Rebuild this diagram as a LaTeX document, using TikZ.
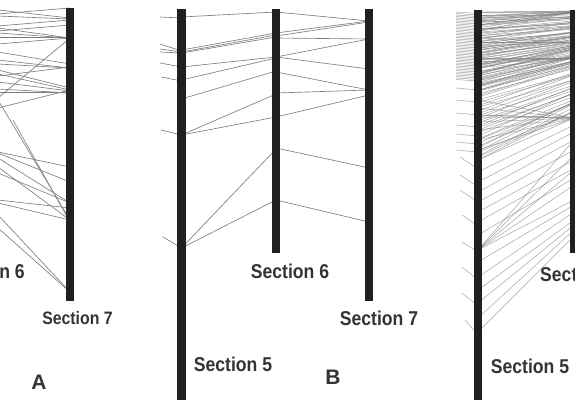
\documentclass[tikz,border=0pt]{standalone}
\usepackage{fontspec}
\setmainfont{Liberation Sans}
\definecolor{barc}{HTML}{231F20}
\definecolor{linec}{HTML}{7E7E7E}
\definecolor{txt}{HTML}{333338}
\tikzset{
  bar/.style={line width=8.5pt, draw=barc},
  link/.style={draw=linec, line width=0.65pt},
  dense/.style={draw=linec, line width=0.5pt, opacity=0.7},
  lab/.style={text=txt, inner sep=0pt, font=\bfseries\fontsize{20}{20}\selectfont},
  labsmall/.style={text=txt, inner sep=0pt, font=\bfseries\fontsize{18}{18}\selectfont},
  letter/.style={text=txt, inner sep=0pt, font=\bfseries\fontsize{21}{21}\selectfont},
}
\begin{document}
\begin{tikzpicture}[x=1pt,y=-1pt]
\useasboundingbox (0,0) rectangle (575,412);
\clip (0,0) rectangle (575,412);

% ---------------- Panel A ----------------
\coordinate (A7top) at (70,8);
\coordinate (A7bot) at (70,301);
\foreach \a/\b in {14/8, 10/18, 16/19, 26/20, 31/25, 28/38, 33/38, 37/37, 44/38, 98/38,
                   52/64, 60/68, 64/68, 76/67, 70/88, 74/90, 82/91, 89/93, 92/92, 108/90,
                   100/220, 152/167, 153/182, 158/203, 167/220, 203/220, 200/208,
                   173/203, 215/292, 228/292}
  \draw[link] (-2,\a) -- (70,\b);
\draw[link] (13,120) -- (70,222);
\draw[bar] (A7top) -- (A7bot);

% ---------------- Panel B ----------------
\coordinate (B5top) at (181.5,9);
\coordinate (B5bot) at (181.5,400);
\coordinate (B6top) at (276,9);
\coordinate (B6bot) at (276,253);
\coordinate (B7top) at (369,9);
\coordinate (B7bot) at (369,301);
% stubs from the left
\foreach \x/\a/\b in {160/17/18, 160/44/51, 160/49/52, 160/52/53, 160/63/67,
                      161/77/81, 161/130/135, 163/237/248}
  \draw[link] (\x,\a) -- (181.5,\b);
% section 5 -> section 6
\foreach \a/\b in {17/12, 50/33, 52/35, 53/37, 67/57, 80/58, 99/71, 135/94, 135/117,
                   248/149, 248/200}
  \draw[link] (181.5,\a) -- (276,\b);
% section 6 -> section 7
\foreach \a/\b in {12/21, 33/21, 36/22, 38/39, 57/39, 57/69, 72/90, 93/90, 117/95,
                   148/168, 200/222}
  \draw[link] (276,\a) -- (369,\b);
\draw[bar] (B5top) -- (B5bot);
\draw[bar] (B6top) -- (B6bot);
\draw[bar] (B7top) -- (B7bot);

% ---------------- Panel C ----------------
\coordinate (C5top) at (478,10);
\coordinate (C5bot) at (478,400);
\coordinate (C6top) at (574,10);
\coordinate (C6bot) at (574,253);
% left stubs
\foreach \y in {12,13.5,...,80}
  \draw[dense] (456,\y) -- (478,{\y+1.5});
\foreach \y in {88,100,113,125,134,142,150}
  \draw[dense] (456,\y) -- (478,{\y+2});
\foreach \x/\a/\b in {460/157/169, 460/175/187, 460/190/202, 462/215/226, 462/242/252,
                      462/267/280, 462/293/306, 465/320/335}
  \draw[dense] (\x,\a) -- (478,\b);
% dense band
\pgfmathsetseed{12}
\foreach \i in {0,...,59}{
  \pgfmathsetmacro\ya{12+\i*2.5+rnd*2}
  \pgfmathsetmacro\yb{max(11,10+\i*1.75+rnd*8-4)}
  \draw[dense] (478,\ya) -- (574,\yb);
}
\foreach \i in {0,...,49}{
  \pgfmathsetmacro\ya{12+\i*1.6+rnd*3}
  \pgfmathsetmacro\yb{max(11,9+\i*1.15+rnd*6-3)}
  \draw[dense] (478,\ya) -- (574,\yb);
}
\foreach \y in {13,16,19,22,25,25,28,31}
  \draw[dense] (478,\y) -- (574,12);
\foreach \y in {38,42,46,50,55}
  \draw[dense] (478,\y) -- (574,42);
\foreach \y in {58,60,62,62,64,68,72}
  \draw[dense] (478,\y) -- (574,58);
\foreach \y in {100,108,115,115,117,122,130,140,150,160}
  \draw[dense] (478,\y) -- (574,118);
% fan
\foreach \a/\b in {172/125, 182/132, 192/140, 202/150, 212/160, 222/168, 235/178,
                   250/140, 250/155, 250/170, 250/185, 250/200, 262/205, 277/212,
                   290/220, 303/225, 318/230, 332/236}
  \draw[dense] (478,\a) -- (574,\b);
\draw[bar] (C5top) -- (C5bot);
\draw[bar] (C6top) -- (C6bot);

% ---------------- Labels ----------------
\node[lab, anchor=east] (a6) at (25,271) {\scalebox{0.88}[1]{Section 6}};
\node[labsmall] (a7) at (77.5,318) {\scalebox{0.88}[1]{Section 7}};
\node[letter] (la) at (39,382) {A};
\node[lab] (b6) at (290,271) {\scalebox{0.88}[1]{Section 6}};
\node[lab] (b7) at (379,318) {\scalebox{0.88}[1]{Section 7}};
\node[lab] (b5) at (233,364) {\scalebox{0.88}[1]{Section 5}};
\node[letter] (lb) at (333,377) {B};
\node[lab] (c5) at (530,366) {\scalebox{0.88}[1]{Section 5}};
\node[lab, anchor=west] (c6) at (540,274) {\scalebox{0.88}[1]{Section 6}};
\end{tikzpicture}
\end{document}
